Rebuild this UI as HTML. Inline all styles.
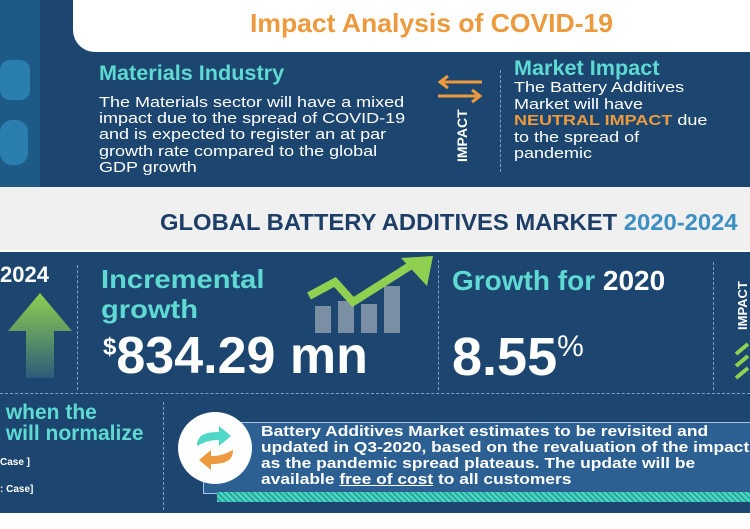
<!DOCTYPE html>
<html><head><style>
body{margin:0;width:750px;height:529px;overflow:hidden;background:#fff;font-family:"Liberation Sans",sans-serif;position:relative}
.a{position:absolute;white-space:nowrap;transform-origin:0 0}
.t{color:#5fdad2}
.w{color:#fff}
</style></head><body>
<div class="a" style="left:0;top:0;width:750px;height:187px;background:#1c4670"></div>
<div class="a" style="left:0;top:0;width:40px;height:187px;background:#1d5a86"></div>
<div class="a" style="left:0;top:60px;width:30px;height:40px;border-radius:10px;background:#2a7fae"></div>
<div class="a" style="left:0;top:120px;width:28px;height:45px;border-radius:12px;background:#2a7fae"></div>
<div class="a" style="left:73px;top:0;width:677px;height:52px;background:#fff;border-bottom-left-radius:22px"></div>
<div class="a" style="left:250px;top:8px;font-size:26px;font-weight:bold;color:#ec9a3d;transform:scaleX(1.02)">Impact Analysis of COVID-19</div>
<div class="a t" style="left:99px;top:62px;font-size:21px;font-weight:bold;transform:scaleX(1.03)">Materials Industry</div>
<div class="a w" style="left:99px;top:95px;font-size:15px;line-height:16.2px;transform:scaleX(1.2)">The Materials sector will have a mixed<br>impact due to the spread of COVID-19<br>and is expected to register an at par<br>growth rate compared to the global<br>GDP growth</div>
<svg class="a" style="left:434px;top:74px" width="52" height="30"><path d="M48 8H8M14 2L6 8L14 14M4 22H44M38 16L46 22L38 28" stroke="#ec9a3d" stroke-width="3" fill="none"/></svg>
<div class="a w" style="left:454px;top:162px;font-size:14px;font-weight:bold;transform:rotate(-90deg)">IMPACT</div>
<div class="a" style="left:500px;top:70px;height:102px;border-left:1px dashed #7fa0c0"></div>
<div class="a t" style="left:514px;top:57px;font-size:21px;font-weight:bold;transform:scaleX(1.03)">Market Impact</div>
<div class="a w" style="left:514px;top:80px;font-size:15px;line-height:16.5px;transform:scaleX(1.2)">The Battery Additives<br>Market will have<br><b style="color:#ec9a3d">NEUTRAL IMPACT</b> due<br>to the spread of<br>pandemic</div>
<div class="a" style="left:0;top:187px;width:750px;height:63px;background:#f0f0f0"></div>
<div class="a" style="left:160px;top:209px;font-size:23px;font-weight:bold;color:#1d3e66;transform:scaleX(1.035)">GLOBAL BATTERY ADDITIVES MARKET <span style="color:#3b8fc2">2020-2024</span></div>
<div class="a" style="left:0;top:252px;width:750px;height:261px;background:#1c4670"></div>
<div class="a w" style="left:0;top:262px;font-size:22px;font-weight:bold">2024</div>
<svg class="a" style="left:7px;top:293px" width="66" height="85"><defs><linearGradient id="g" x1="0" y1="0" x2="0" y2="1"><stop offset="0" stop-color="#8fd050"/><stop offset="1" stop-color="#2c5c7a"/></linearGradient></defs><path d="M33 0L65 38H47V85H19V38H1Z" fill="url(#g)"/></svg>
<div class="a" style="left:77px;top:265px;height:125px;border-left:1px dashed #7fa0c0"></div>
<div class="a t" style="left:101px;top:264px;font-size:26px;font-weight:bold;line-height:30px;transform:scaleX(1.12)">Incremental<br>growth</div>
<div class="a w" style="left:103px;top:326px;font-size:52px;font-weight:bold"><sup style="font-size:24px">$</sup>834.29 mn</div>
<svg class="a" style="left:305px;top:256px" width="130" height="78"><g fill="#7a8fa4"><rect x="10" y="50" width="16" height="27"/><rect x="33" y="45" width="16" height="32"/><rect x="56" y="48" width="16" height="29"/><rect x="79" y="30" width="16" height="47"/></g><path d="M4 40L30 26L48 46L108 8" stroke="#8fd050" stroke-width="8" fill="none"/><path d="M96 2L128 0L122 30Z" fill="#8fd050"/></svg>
<div class="a" style="left:438px;top:260px;height:130px;border-left:1px dashed #7fa0c0"></div>
<div class="a t" style="left:452px;top:265px;font-size:28px;font-weight:bold">Growth for <span class="w">2020</span></div>
<div class="a w" style="left:452px;top:326px;font-size:54px;font-weight:bold">8.55<sup style="font-size:30px;font-weight:normal">%</sup></div>
<div class="a" style="left:713px;top:262px;height:128px;border-left:1px dashed #7fa0c0"></div>
<div class="a w" style="left:735px;top:330px;font-size:13px;font-weight:bold;transform:rotate(-90deg)">IMPACT</div>
<svg class="a" style="left:734px;top:342px" width="16" height="40"><path d="M2 12L14 2M2 24L14 14M2 36L14 26" stroke="#8fd050" stroke-width="4"/></svg>
<div class="a" style="left:0;top:393px;width:750px;border-top:1px dashed #7fa0c0"></div>
<div class="a t" style="left:0;top:402px;font-size:21px;font-weight:bold;line-height:21px">&nbsp;when the<br>&nbsp;will normalize</div>
<div class="a w" style="left:0;top:457px;font-size:10px;font-weight:bold">Case ]</div>
<div class="a w" style="left:0;top:484px;font-size:10px;font-weight:bold">: Case]</div>
<div class="a" style="left:163px;top:402px;height:108px;border-left:1px dashed #7fa0c0"></div>
<div class="a" style="left:203px;top:422px;width:547px;height:70px;background:#2c5f92;border:1px solid #a8c4e0"></div>
<div class="a" style="left:217px;top:492px;width:533px;height:10px;background:repeating-linear-gradient(45deg,#4fd8c8 0 2px,#2aa89a 2px 4px)"></div>
<div class="a" style="left:178px;top:412px;width:74px;height:72px;border-radius:50%;background:#fff"></div>
<svg class="a" style="left:193px;top:426px" width="44" height="44"><path d="M4 20C4 8 14 6 26 6V0L38 10L26 20V14C16 14 12 16 4 20Z" fill="#4fd8c8"/><path d="M40 24C40 36 30 38 18 38V44L6 34L18 24V30C28 30 32 28 40 24Z" fill="#ec9a3d"/></svg>
<div class="a w" style="left:261px;top:424px;font-size:15px;font-weight:bold;line-height:16px;transform:scaleX(1.16)">Battery Additives Market estimates to be revisited and<br>updated in Q3-2020, based on the revaluation of the impact<br>as the pandemic spread plateaus. The update will be<br>available <u>free of cost</u> to all customers</div>
</body></html>
